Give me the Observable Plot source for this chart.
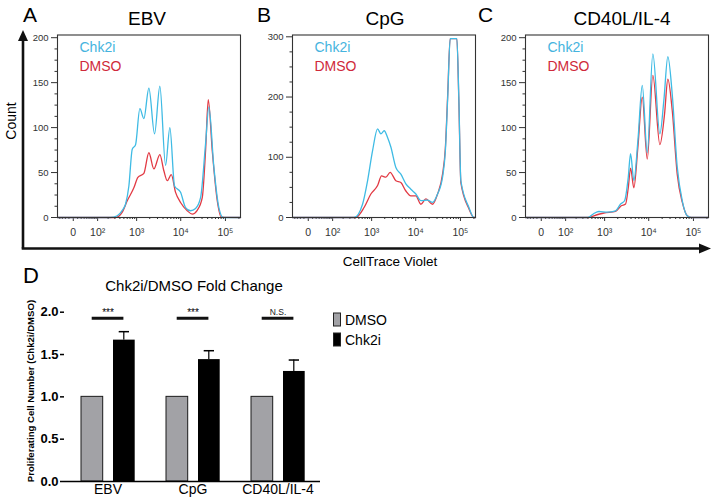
<!DOCTYPE html>
<html><head><meta charset="utf-8">
<script src="https://cdn.jsdelivr.net/npm/d3@7"></script>
<script src="https://cdn.jsdelivr.net/npm/@observablehq/plot@0.6"></script>
<style>
body{margin:0;background:#fff;}
#fig{position:relative;width:714px;height:502px;overflow:hidden;background:#fff;font-family:"Liberation Sans",Arial,sans-serif;}
#fig svg{position:absolute;}
</style></head>
<body><div id="fig"></div>
<script>
// ---------- data ----------
const panelLetters = ["A", "B", "C"];
const panelTitles = ["EBV", "CpG", "CD40L/IL-4"];
const seriesNames = ["Chk2i", "DMSO"];
const xTickValues = [0, 100, 1000, 10000, 100000];
const xTickLabels = ["0", "10\u00b2", "10\u00b3", "10\u2074", "10\u2075"];
const xMinorTicks = [-40, -30, -20, -10, 10, 20, 30, 40, 50, 60, 70, 80, 90,
  200, 300, 400, 500, 600, 700, 800, 900, 2000, 3000, 4000, 5000, 6000, 7000, 8000, 9000,
  20000, 30000, 40000, 50000, 60000, 70000, 80000, 90000, 200000];
const yTicks200 = [0, 50, 100, 150, 200];
const yMinor200 = [12.5, 25, 37.5, 62.5, 75, 87.5, 112.5, 125, 137.5, 162.5, 175, 187.5];
const yTicks300 = [0, 100, 200, 300];
const yMinor300 = [25, 50, 75, 125, 150, 175, 225, 250, 275];

// [CellTrace Violet intensity, count]
const ebvChk2i = [[-50,0],[232,0],[344,1.9],[457,8],[549,15],[658,35],[790,76],[944,81],[1188,121],[1468,110],[1912,144],[2575,93],[3392,146],[4564,58],[5705,100],[7272,35],[9916,28],[12836,11],[16600,7.5],[21500,10],[27800,22],[35960,82],[42640,123],[55140,56],[71300,11],[89400,0],[217000,0]];
const ebvDMSO = [[-50,0],[312,0],[457,6],[602,18.6],[862,33],[1068,44.6],[1468,49],[1912,72],[2483,54],[3392,70],[4176,52],[4984,41],[6132,47.6],[7660,28],[9916,16.7],[14000,7.5],[18130,3.8],[23440,8],[30330,22],[35960,74],[41340,131],[50800,74],[65640,18.6],[80640,0.5],[217000,0]];
const cpgChk2i = [[-50,0],[384,0],[612,22],[804,61],[1052,111],[1372,147],[1633,139],[1940,144],[2320,133],[2756,117],[3576,83],[4635,72],[6000,56],[7776,47],[10070,39],[13030,28],[18400,29],[23800,25],[30800,39],[39840,67],[46000,110],[52000,200],[58960,297],[83200,297],[92000,200],[102200,61],[154000,17],[199400,0],[217000,0]];
const cpgDMSO = [[-50,0],[420,0],[670,17],[960,39],[1372,53],[1694,69],[2124,67],[2655,75],[3576,61],[4635,58],[6000,44],[7776,36],[10070,36],[13030,22],[16900,31],[23800,22],[30800,39],[39840,72],[46000,115],[52000,205],[58960,297],[83200,297],[92000,195],[102200,58],[154000,15],[199400,0],[217000,0]];
const cd40Chk2i = [[-50,0],[400,0],[559,4.5],[733,6.7],[1150,6],[1785,7.5],[2320,15],[2860,18.6],[3464,44.6],[3904,71],[4635,41],[5705,85],[7160,147],[9260,72],[12370,182],[17770,93],[21800,130],[26800,179],[33600,137],[43460,56],[56300,18.6],[72700,1.9],[90000,0],[217000,0]];
const cd40DMSO = [[-50,0],[420,0],[559,1.9],[960,5],[1785,6.7],[2404,13],[3012,15],[3464,33],[3904,55],[4635,33],[5705,78],[7160,134],[9260,65],[12370,158],[17770,81],[22600,115],[26800,154],[33600,119],[43460,48],[56300,17],[72700,1.9],[90000,0],[217000,0]];

// bar chart (D)
const groups = ["EBV", "CpG", "CD40L/IL-4"];
const dmsoFold = [1.0, 1.0, 1.0];
const chk2iFold = [1.67, 1.44, 1.30];
const chk2iSEM = [0.10, 0.105, 0.135];
const sigLabels = ["***", "***", "N.S."];
const sigLevel = 1.93;

// ---------- styling ----------
const CYAN = "#3fbbe4", RED = "#e23a44", CYAN_T = "#45b4de", RED_T = "#cf2a3a";
const FONT = "'Liberation Sans', Arial, sans-serif";
const fig = d3.select("#fig");

// decorative overlay (arrows + text)
const ov = fig.append("svg").attr("width", 714).attr("height", 502).style("left", "0px").style("top", "0px")
  .attr("font-family", FONT);
ov.append("path").attr("d", "M23,248.5 L23,38").attr("stroke", "#111").attr("stroke-width", 2.6).attr("fill", "none");
ov.append("path").attr("d", "M23,30 L18,41 L28,41 Z").attr("fill", "#111");
ov.append("path").attr("d", "M21.7,248.5 L700,248.5").attr("stroke", "#111").attr("stroke-width", 2.6).attr("fill", "none");
ov.append("path").attr("d", "M711,248.5 L699,243.5 L699,253.5 Z").attr("fill", "#111");
ov.append("text").attr("transform", "translate(16,121) rotate(-90)").attr("text-anchor", "middle").attr("font-size", 14).text("Count");
ov.append("text").attr("x", 390).attr("y", 266).attr("text-anchor", "middle").attr("font-size", 13.5).text("CellTrace Violet");

const letterX = [23, 257, 478], titleX = [147, 385, 622];
panelLetters.forEach((l, i) => {
  ov.append("text").attr("x", letterX[i]).attr("y", 22).attr("font-size", 21).text(l);
  ov.append("text").attr("x", titleX[i]).attr("y", 25).attr("font-size", 19).attr("text-anchor", "middle").text(panelTitles[i]);
});
ov.append("text").attr("x", 23).attr("y", 283).attr("font-size", 22).text("D");
ov.append("text").attr("x", 194).attr("y", 291).attr("font-size", 15).attr("text-anchor", "middle").text("Chk2i/DMSO Fold Change");
ov.append("text").attr("transform", "translate(34,391) rotate(-90)").attr("text-anchor", "middle")
  .attr("font-size", 9.6).attr("font-weight", "bold").text("Proliferating Cell Number (Chk2i/DMSO)");
// bar legend
[["DMSO", "#a2a2a6", 313], ["Chk2i", "#000", 333]].forEach(([name, fill, y]) => {
  ov.append("rect").attr("x", 333.5).attr("y", y).attr("width", 7).attr("height", 13).attr("fill", fill).attr("stroke", "#222").attr("stroke-width", 1);
  ov.append("text").attr("x", 345).attr("y", y + 12).attr("font-size", 14).text(name);
});

// ---------- histograms ----------
const toRows = arr => arr.map(([fl, count]) => ({fl, count}));
function histogram(chk, dmso, ymax, yTicks, yMinor) {
  return Plot.plot({
    width: 245, height: 245,
    marginLeft: 57, marginRight: 5, marginTop: 34.5, marginBottom: 28,
    style: {background: "none", fontSize: "9.5px", fontFamily: FONT, color: "#333", overflow: "visible"},
    x: {type: "symlog", constant: 40, domain: [-50, 217000], label: null},
    y: {domain: [0, ymax], label: null},
    marks: [
      Plot.axisX({ticks: xTickValues, tickFormat: d => xTickLabels[xTickValues.indexOf(d)], tickSize: 4, tickPadding: 7, label: null, fill: "#333", fontSize: 10.5}),
      Plot.axisX({ticks: xMinorTicks, tickFormat: () => "", tickSize: 2, label: null}),
      Plot.axisY({ticks: yTicks, tickSize: 6, tickPadding: 3, label: null, fill: "#333"}),
      Plot.axisY({ticks: yMinor, tickFormat: () => "", tickSize: 2.5, label: null}),
      Plot.line(toRows(dmso), {x: "fl", y: "count", stroke: RED, strokeWidth: 1.3, curve: "monotone-x"}),
      Plot.line(toRows(chk), {x: "fl", y: "count", stroke: CYAN, strokeWidth: 1.3, curve: "monotone-x"}),
      Plot.frame({stroke: "#333", strokeWidth: 1.1}),
      Plot.text([seriesNames[0]], {text: d => d, frameAnchor: "top-left", dx: 22, dy: 7, fill: CYAN_T, fontSize: 14}),
      Plot.text([seriesNames[1]], {text: d => d, frameAnchor: "top-left", dx: 22, dy: 26, fill: RED_T, fontSize: 14})
    ]
  });
}
const panels = [
  [ebvChk2i, ebvDMSO, 203, yTicks200, yMinor200, 0],
  [cpgChk2i, cpgDMSO, 303, yTicks300, yMinor300, 235],
  [cd40Chk2i, cd40DMSO, 203, yTicks200, yMinor200, 468]
];
panels.forEach(([c, d, ymax, yt, ym, left]) => {
  const p = histogram(c, d, ymax, yt, ym);
  p.style.left = left + "px"; p.style.top = "0px";
  fig.node().appendChild(p);
});

// ---------- bar chart ----------
const barRows = groups.map((g, i) => ({group: g, dmso: dmsoFold[i], chk: chk2iFold[i], err: chk2iSEM[i], sig: sigLabels[i]}));
const bar = Plot.plot({
  width: 330, height: 232,
  marginLeft: 64, marginRight: 10, marginTop: 41.7, marginBottom: 21,
  style: {background: "none", fontFamily: FONT, color: "#000", overflow: "visible"},
  x: {domain: groups, padding: 0, label: null},
  y: {domain: [0, 2], label: null},
  marks: [
    Plot.barY(barRows, {x: "group", y: "dmso", fill: "#a2a2a6", stroke: "#1a1a1a", strokeWidth: 1, insetLeft: 16, insetRight: 47.3}),
    Plot.barY(barRows, {x: "group", y: "chk", fill: "#000", insetLeft: 48, insetRight: 15.3}),
    Plot.barY(barRows, {x: "group", y1: "chk", y2: d => d.chk + d.err, fill: "#000", insetLeft: 58.2, insetRight: 25.6}),
    Plot.tickY(barRows, {x: "group", y: d => d.chk + d.err, stroke: "#000", strokeWidth: 1.5, insetLeft: 53.7, insetRight: 21}),
    Plot.tickY(barRows, {x: "group", y: () => sigLevel, stroke: "#111", strokeWidth: 3, insetLeft: 26.7, insetRight: 26.6}),
    Plot.text(barRows.filter(d => d.sig !== "N.S."), {x: "group", y: () => sigLevel, text: "sig", dy: -5, fontSize: 10, fill: "#000"}),
    Plot.text(barRows.filter(d => d.sig === "N.S."), {x: "group", y: () => sigLevel, text: "sig", dy: -6, fontSize: 8.5, fill: "#222"}),
    Plot.axisY({ticks: [0, 0.5, 1, 1.5, 2], tickFormat: d3.format(".1f"), tickSize: 4, tickPadding: 2, fontSize: 13, fontWeight: "bold", fill: "#000", label: null, line: true, strokeWidth: 1.5}),
    Plot.axisX({tickSize: 0, tickPadding: 3, fontSize: 14, fill: "#000", label: null}),
    Plot.ruleY([0], {stroke: "#000", strokeWidth: 1.5})
  ]
});
bar.style.left = "0px"; bar.style.top = "270px";
fig.node().appendChild(bar);
</script>
</body></html>
